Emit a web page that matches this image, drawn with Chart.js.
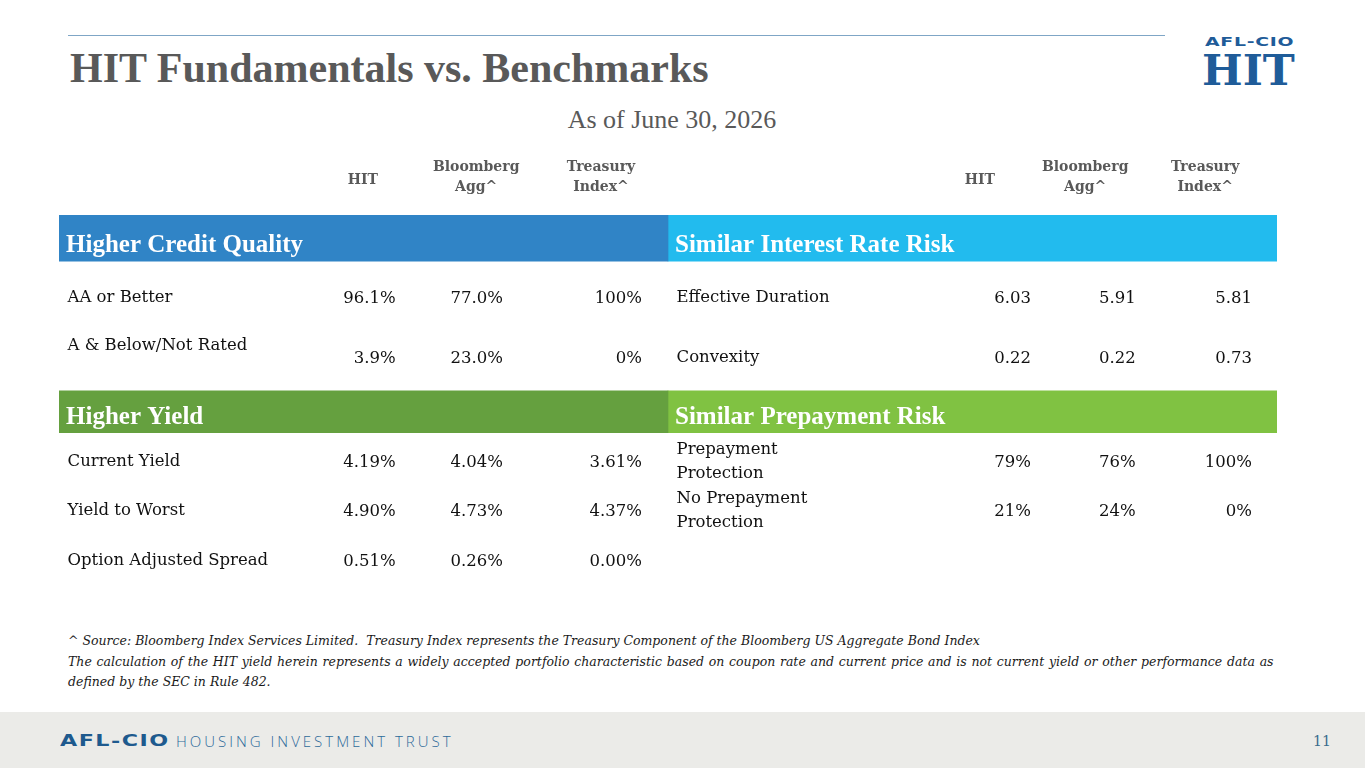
<!DOCTYPE html>
<html>
<head>
<meta charset="utf-8">
<title>HIT Fundamentals vs. Benchmarks</title>
<script src="https://cdn.jsdelivr.net/npm/chart.js@4.4.1/dist/chart.umd.min.js"></script>
<style>
  html, body { margin: 0; padding: 0; background: #fff; }
  body { width: 1365px; height: 768px; position: relative; overflow: hidden; }
  .abs { position: absolute; white-space: nowrap; }
  #rule { left: 68px; top: 35px; width: 1097px; height: 1px; background: #7fa6c6; }
  #title { left: 70px; top: 47px; font: bold 42px/42px "Liberation Serif", serif; color: #595959; }
  #subtitle { left: 0; width: 1344px; top: 107px; text-align: center; font: 26px/26px "Liberation Serif", serif; color: #595959; }
  #logoTop { left: 1205px; top: 34px; font: bold 13px/16px "DejaVu Sans", sans-serif; color: #1f5c99; transform: scaleX(1.45); transform-origin: left; letter-spacing: 0.5px; }
  #logoHit { left: 1202px; top: 49px; font: bold 43px/43px "DejaVu Serif", serif; color: #1f5c99; }
  .wrap { position: absolute; left: 59px; width: 1218px; }
  #topWrap { top: 149px; height: 238px; }
  #bottomWrap { top: 387px; height: 198px; }
  #notes { left: 68px; top: 631px; font: italic 12.5px/20.5px "DejaVu Serif", serif; color: #1a1a1a; }
  #notes .wide { word-spacing: 0.75px; }
  #band { left: 0; top: 712px; width: 1365px; height: 56px; background: #ebebe8; }
  #footBrand { left: 60px; top: 732px; font: bold 15px/18px "DejaVu Sans", sans-serif; color: #1e5a8e; letter-spacing: 1px; transform: scaleX(1.48); transform-origin: left; }
  #footName { left: 176px; top: 731px; font: 300 15px/20px "Open Sans", sans-serif; color: #2d6a9a; letter-spacing: 3px; }
  #pageNo { left: 1313px; top: 732px; font: 14px/18px "DejaVu Serif", serif; color: #3a6b8c; }
</style>
</head>
<body>
<div id="rule" class="abs"></div>
<div id="title" class="abs">HIT Fundamentals vs. Benchmarks</div>
<div id="subtitle" class="abs">As of June 30, 2026</div>
<div id="logoTop" class="abs">AFL-CIO</div>
<div id="logoHit" class="abs">HIT</div>

<div id="topWrap" class="wrap"><canvas id="topChart"></canvas></div>
<div id="bottomWrap" class="wrap"><canvas id="bottomChart"></canvas></div>

<div id="notes" class="abs">^ Source: Bloomberg Index Services Limited.&nbsp; Treasury Index represents the Treasury Component of the Bloomberg US Aggregate Bond Index<br><span class="wide">The calculation of the HIT yield herein represents a widely accepted portfolio characteristic based on coupon rate and current price and is not current yield or other performance data as</span><br>defined by the SEC in Rule 482.</div>

<div id="band" class="abs"></div>
<div id="footBrand" class="abs">AFL-CIO</div>
<div id="footName" class="abs">HOUSING INVESTMENT TRUST</div>
<div id="pageNo" class="abs">11</div>

<script>
// Column headings (same on both halves)
const columnLabels = ['HIT', 'Bloomberg Agg^', 'Treasury Index^'];

// Section titles
const sections = ['Higher Credit Quality', 'Similar Interest Rate Risk', 'Higher Yield', 'Similar Prepayment Risk'];

// Higher Credit Quality
const creditLabels = [['AA or Better'], ['A & Below/Not Rated', '']];
const creditHit = [96.1, 3.9];
const creditAgg = [77.0, 23.0];
const creditTreasury = [100, 0];

// Similar Interest Rate Risk
const durationLabels = [['Effective Duration'], ['Convexity']];
const durationHit = [6.03, 0.22];
const durationAgg = [5.91, 0.22];
const durationTreasury = [5.81, 0.73];

// Higher Yield
const yieldLabels = [['Current Yield'], ['Yield to Worst'], ['Option Adjusted Spread']];
const yieldHit = [4.19, 4.90, 0.51];
const yieldAgg = [4.04, 4.73, 0.26];
const yieldTreasury = [3.61, 4.37, 0.00];

// Similar Prepayment Risk
const prepayLabels = [['Prepayment', 'Protection'], ['No Prepayment', 'Protection']];
const prepayHit = [79, 21];
const prepayAgg = [76, 24];
const prepayTreasury = [100, 0];

// Where text sits inside each half of the table (fraction of a half)
const halfLayout = [
    { label: 0.014, values: [0.553, 0.729, 0.957], heads: [0.499, 0.685, 0.890] },
    { label: 0.014, values: [0.596, 0.768, 0.959], heads: [0.512, 0.685, 0.882] }
];
const sectionColors = [['#3084c6', '#22bbee'], ['#65a03f', '#80c242']];

const fmt = (v, digits, suffix) => v.toFixed(digits) + suffix;

// Draws the table text on top of the section bars, using the chart scales
const tableText = {
    id: 'tableText',
    afterDatasetsDraw(chart, args, opts) {
        const { ctx, scales: { x, y } } = chart;
        const rowPx = i => y.getPixelForValue(i);
        ctx.save();

        if (opts.header) {
            ctx.font = 'bold 14px "DejaVu Serif"';
            ctx.fillStyle = '#595959';
            ctx.textAlign = 'center';
            ctx.textBaseline = 'middle';
            const yc = rowPx(0);
            halfLayout.forEach((lay, h) => {
                columnLabels.forEach((lbl, c) => {
                    const lines = lbl.split(' ');
                    const px = x.getPixelForValue(h + lay.heads[c]);
                    lines.forEach((ln, k) => {
                        const off = lines.length === 1 ? 3 : (k - (lines.length - 1) / 2) * 20;
                        ctx.fillText(ln, px, yc + off - 1);
                    });
                });
            });
        }

        const secIdx = opts.header ? 1 : 0;
        opts.halves.forEach((half, h) => {
            // section title inside its bar
            const bar = chart.getDatasetMeta(h).data[secIdx];
            ctx.font = 'bold 25px "Liberation Serif"';
            ctx.fillStyle = '#ffffff';
            ctx.textAlign = 'left';
            ctx.textBaseline = 'alphabetic';
            ctx.fillText(half.title, Math.min(bar.x, bar.base) + 7, bar.y + bar.height / 2 - 9);

            // data rows
            const lay = halfLayout[h];
            ctx.font = '16.5px "DejaVu Serif"';
            ctx.fillStyle = '#111111';
            ctx.textBaseline = 'middle';
            half.labels.forEach((lines, i) => {
                const yc = rowPx(secIdx + 1 + i);
                ctx.textAlign = 'left';
                lines.forEach((ln, k) => {
                    ctx.fillText(ln, x.getPixelForValue(h + lay.label), yc + (k - (lines.length - 1) / 2) * 24);
                });
                ctx.textAlign = 'right';
                half.columns.forEach((col, c) => {
                    ctx.fillText(fmt(col[i], half.digits[c], half.suffix), x.getPixelForValue(h + lay.values[c]), yc + 1);
                });
            });
        });
        ctx.restore();
    }
};

function makeTable(canvasId, rows, secIdx, thickness, colors, tableOpts) {
    const sectionOnly = rows.map((r, i) => i === secIdx ? 1 : null);
    return new Chart(document.getElementById(canvasId), {
        type: 'bar',
        data: {
            labels: rows,
            datasets: [
                { label: tableOpts.halves[0].title, data: sectionOnly, backgroundColor: colors[0], barThickness: thickness },
                { label: tableOpts.halves[1].title, data: sectionOnly, backgroundColor: colors[1], barThickness: thickness }
            ]
        },
        options: {
            indexAxis: 'y',
            responsive: true,
            maintainAspectRatio: false,
            animation: false,
            layout: { padding: 0 },
            scales: {
                x: { type: 'linear', min: 0, max: 2, stacked: true, display: false },
                y: { stacked: true, display: false }
            },
            plugins: {
                legend: { display: false },
                tooltip: { enabled: false },
                tableText: tableOpts
            }
        },
        plugins: [tableText]
    });
}

makeTable('topChart', ['columns', 'section', 'row 1', 'row 2'], 1, 46, sectionColors[0], {
    header: true,
    halves: [
        { title: sections[0], labels: creditLabels, columns: [creditHit, creditAgg, creditTreasury], digits: [1, 1, 0], suffix: '%' },
        { title: sections[1], labels: durationLabels, columns: [durationHit, durationAgg, durationTreasury], digits: [2, 2, 2], suffix: '' }
    ]
});

makeTable('bottomChart', ['section', 'row 1', 'row 2', 'row 3'], 0, 42, sectionColors[1], {
    header: false,
    halves: [
        { title: sections[2], labels: yieldLabels, columns: [yieldHit, yieldAgg, yieldTreasury], digits: [2, 2, 2], suffix: '%' },
        { title: sections[3], labels: prepayLabels, columns: [prepayHit, prepayAgg, prepayTreasury], digits: [0, 0, 0], suffix: '%' }
    ]
});
</script>
</body>
</html>
